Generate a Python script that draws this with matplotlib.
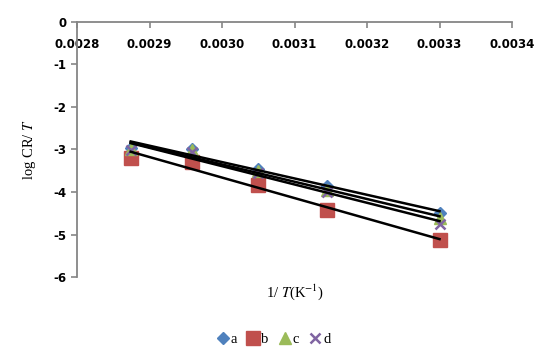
import numpy as np
import matplotlib
matplotlib.use("Agg")
import matplotlib.pyplot as plt

inv_T = [0.002874, 0.002959, 0.003049, 0.003145, 0.003300]
series_names = ["a", "b", "c", "d"]
a_vals = [-2.96, -2.98, -3.45, -3.85, -4.50]
b_vals = [-3.20, -3.30, -3.83, -4.42, -5.13]
c_vals = [-3.00, -3.02, -3.50, -3.95, -4.62]
d_vals = [-3.02, -3.05, -3.55, -4.00, -4.75]
x_ticks = [0.0028, 0.0029, 0.0030, 0.0031, 0.0032, 0.0033, 0.0034]
y_ticks = [0, -1, -2, -3, -4, -5, -6]

plt.rcParams['mathtext.fontset'] = 'stix'
fig = plt.figure(figsize=(5.35, 3.47), dpi=100)
ax = fig.add_axes([0.144, 0.2017, 0.813, 0.735])

styles = [
    dict(marker='D', color='#4F81BD', ms=6.5),
    dict(marker='s', color='#C0504D', ms=9.5),
    dict(marker='^', color='#9BBB59', ms=8),
    dict(marker='x', color='#8064A2', ms=7, mew=1.8),
]
x = np.array(inv_T)
for name, vals, st in zip(series_names, [a_vals, b_vals, c_vals, d_vals], styles):
    ax.plot(x, vals, linestyle='none', label=name, zorder=3, **st)
for vals in [a_vals, b_vals, c_vals, d_vals]:
    k, c0 = np.polyfit(x, vals, 1)
    ax.plot(x[[0, -1]], k * x[[0, -1]] + c0, color='black', lw=1.8, zorder=4)

ax.set_xlim(0.0028, 0.0034)
ax.set_ylim(-6, 0)
ax.set_xticks(x_ticks)
ax.set_xticklabels([f"{t:.4f}" for t in x_ticks])
ax.set_yticks(y_ticks)
ax.set_yticklabels([str(t) for t in y_ticks])

for s in ['right', 'bottom']:
    ax.spines[s].set_visible(False)
for s in ['left', 'top']:
    ax.spines[s].set_color('#868686')
    ax.spines[s].set_linewidth(1.3)

ax.tick_params(axis='x', top=True, labeltop=True, bottom=False, labelbottom=False,
               direction='in', length=4, color='#868686', pad=-21, width=1.2)
ax.tick_params(axis='y', direction='out', length=4, color='#868686', width=1.2)
for lab in ax.get_xticklabels() + ax.get_yticklabels():
    lab.set_fontfamily('DejaVu Sans')
    lab.set_fontweight('bold')
    lab.set_fontsize(8.5)

ax.set_xlabel(r'1/ $\mathit{T}$(K$^{-1}$)', family='Liberation Serif', fontsize=10.5)
ax.xaxis.set_label_coords(0.5, -0.02)
ax.set_ylabel(r'log CR/ $\mathit{T}$', family='Liberation Serif', fontsize=10.5)
ax.yaxis.set_label_coords(-0.09, 0.5)

leg = fig.legend(loc='lower center', bbox_to_anchor=(0.51, -0.035), ncol=4, frameon=False,
                 handletextpad=0.05, columnspacing=0.6, handlelength=1.0,
                 prop={'family': 'Liberation Serif', 'size': 10.5})

fig.savefig('out.png', dpi=100)
